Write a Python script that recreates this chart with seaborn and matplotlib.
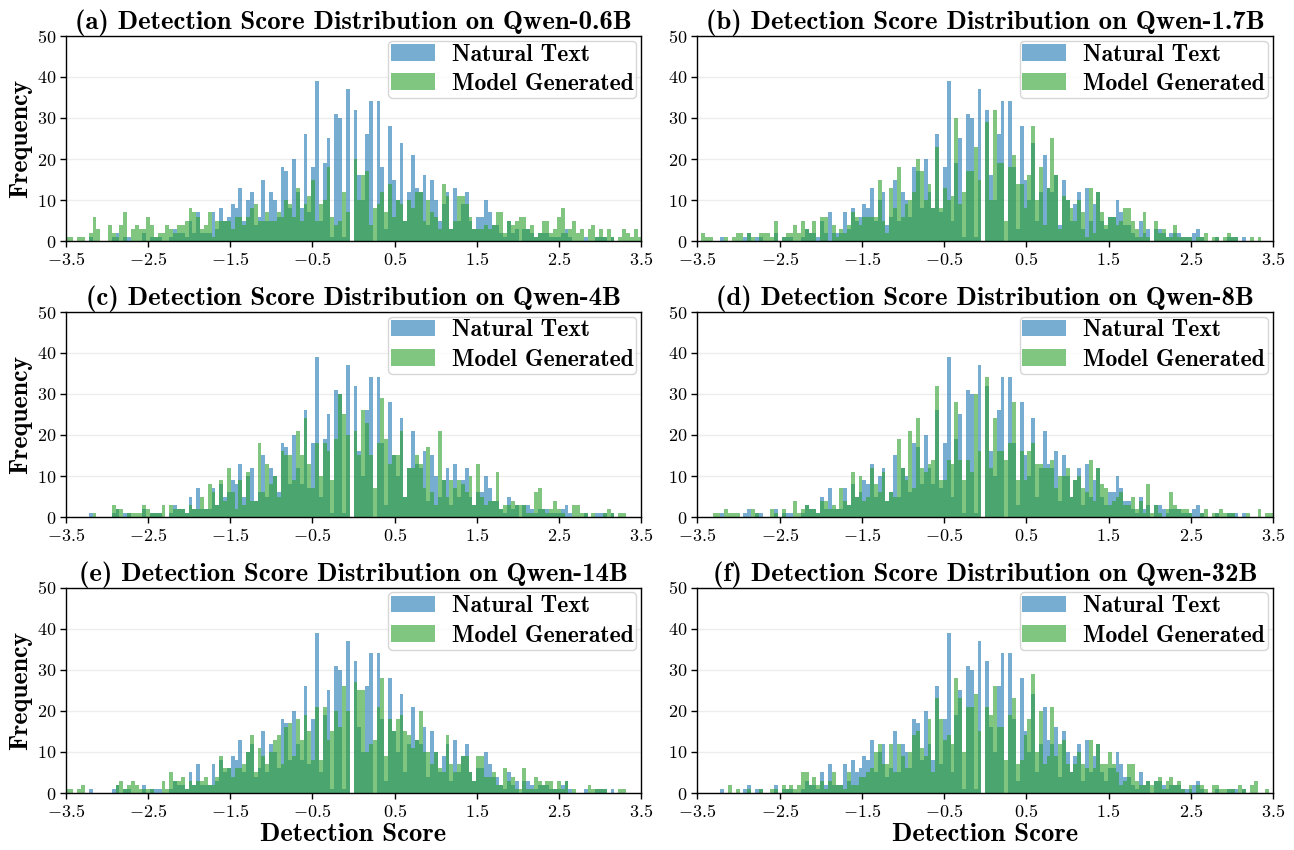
import numpy as np
import matplotlib
matplotlib.use("Agg")
import matplotlib.pyplot as plt
import seaborn as sns

models = ["(a) Detection Score Distribution on Qwen-0.6B",
          "(b) Detection Score Distribution on Qwen-1.7B",
          "(c) Detection Score Distribution on Qwen-4B",
          "(d) Detection Score Distribution on Qwen-8B",
          "(e) Detection Score Distribution on Qwen-14B",
          "(f) Detection Score Distribution on Qwen-32B"]

# counts per bin, 150 bins between -3.5 and 3.5
natural = [0,0,0,0,0,0,1,0,0,0, 0,0,1,2,0,1,1,0,0,0, 2,0,1,1,1,0,0,1,3,2,
           2,1,5,2,7,2,2,2,7,3, 8,5,6,9,8,13,5,10,12,4, 6,15,5,12,10,6,18,17,8,20,
           12,8,26,7,18,39,5,19,25,1, 31,30,1,37,0,32,16,10,26,34, 0,34,18,3,28,15,10,24,5,12,
           21,13,12,16,4,15,10,5,9,12, 3,13,5,9,12,5,3,6,6,10, 7,4,4,2,1,5,2,3,0,3,
           3,2,1,2,2,2,1,1,1,2, 3,1,0,0,0,1,0,0,1,1, 1,0,1,0,0,0,0,0,0,0]

gen_a = [1,1,0,1,1,0,2,6,3,0, 0,4,2,1,4,7,0,3,4,3, 3,6,4,1,2,2,4,3,2,4,
         4,5,8,7,6,3,4,7,1,5, 5,5,5,3,6,6,4,6,8,9, 5,5,7,5,5,7,6,10,9,6,
         13,5,9,11,15,5,9,10,18,6, 4,5,12,7,0,20,10,16,17,4, 8,9,12,7,14,6,10,9,5,10,
         8,12,12,5,10,7,6,3,14,11, 3,5,11,11,9,6,3,3,3,4, 3,4,7,7,2,5,4,5,6,6,
         3,4,1,2,5,5,2,3,6,8, 2,3,5,2,3,0,3,4,1,3, 1,3,1,0,1,3,2,1,3,1]

gen_b = [0,2,1,1,0,0,0,1,0,1, 2,2,0,2,1,0,2,2,2,1, 5,0,1,2,2,4,2,5,3,2,
         5,0,6,6,0,4,1,3,2,4, 7,6,4,6,6,6,6,15,5,2, 13,8,18,6,9,10,12,20,17,10,
         14,8,23,8,13,10,11,30,9,12, 17,17,23,15,0,29,10,32,19,19, 5,18,21,14,14,8,16,28,10,18,
         4,13,25,16,3,11,10,8,5,10, 7,1,13,2,12,7,4,6,6,4, 5,8,8,5,3,1,7,1,0,5,
         2,3,1,1,4,1,1,1,1,0, 1,1,2,0,1,1,0,1,2,1, 1,0,0,0,1,0,1,0,0,0]

gen_c = [0,0,0,0,0,0,0,1,0,0, 0,0,3,2,2,0,1,1,1,1, 3,2,1,1,1,3,0,3,2,2,
         2,1,3,2,2,5,2,8,6,3, 9,4,12,6,2,9,3,11,4,4, 18,6,13,8,10,5,16,15,15,9,
         21,15,24,13,7,18,10,18,16,9, 19,30,25,20,0,21,15,26,23,15, 7,18,29,19,13,15,15,21,5,12,
         12,15,13,7,17,6,3,21,9,5, 9,7,9,8,6,10,3,13,5,3, 4,4,11,2,3,3,4,3,3,3,
         1,1,6,7,2,1,2,4,2,1, 0,0,3,3,1,1,0,1,0,0, 1,2,1,0,1,1,0,0,0,0]

gen_d = [0,0,0,0,1,1,0,2,1,1, 1,0,0,0,2,1,0,0,0,2, 1,0,2,0,0,4,1,2,3,2,
         2,1,4,4,2,3,2,7,4,3, 11,5,10,4,5,12,8,6,11,4, 6,5,19,12,9,21,7,24,12,11,
         13,14,32,9,9,14,13,28,14,9, 14,11,30,16,0,34,12,24,16,16, 14,18,28,9,16,9,16,18,13,13,
         12,12,14,7,10,10,12,5,9,10, 7,6,14,4,12,8,7,3,4,5, 6,3,3,5,2,4,1,8,1,3,
         1,0,2,6,3,2,2,2,1,0, 0,1,2,0,1,1,2,1,1,1, 0,0,0,1,0,0,2,0,1,1]

gen_e = [1,1,0,1,2,0,0,0,0,0, 0,0,0,2,3,1,2,3,2,1, 1,1,1,0,0,3,1,5,3,3,
         4,1,3,2,3,3,4,2,2,4, 9,6,6,4,6,6,7,10,14,5, 11,9,7,10,13,14,7,16,17,9,
         18,13,19,15,8,21,8,21,13,15, 20,16,26,20,0,27,25,25,10,12, 13,21,28,9,18,15,18,19,15,14,
         11,13,20,10,10,7,10,6,5,14, 7,5,7,9,9,5,3,9,9,4, 4,5,2,2,6,3,4,1,1,6,
         1,1,4,3,2,3,3,1,3,1, 3,0,1,0,0,0,2,1,1,1, 1,0,0,0,1,1,0,0,0,0]

gen_f = [0,0,0,0,0,0,0,0,2,0, 1,0,0,1,0,0,1,0,0,1, 1,0,2,1,2,1,2,5,5,2,
         4,2,3,1,3,5,2,2,1,5, 2,2,4,4,5,6,10,12,7,7, 12,5,12,9,6,10,14,15,11,9,
         18,5,23,18,13,14,12,28,23,10, 21,21,24,15,0,21,19,26,16,16, 8,19,23,7,8,14,18,29,10,20,
         7,9,21,9,12,13,7,5,7,10, 7,6,13,6,12,7,7,10,7,5, 2,3,7,7,3,2,2,3,2,3,
         4,1,3,4,2,3,1,0,2,0, 2,2,1,0,2,2,1,1,1,1, 0,2,1,0,2,3,0,0,1,0]

generated = [gen_a, gen_b, gen_c, gen_d, gen_e, gen_f]
xticks = [-3.5, -2.5, -1.5, -0.5, 0.5, 1.5, 2.5, 3.5]
yticks = [0, 10, 20, 30, 40, 50]

sns.set_style("ticks")
plt.rcParams["font.family"] = "cmr10"
plt.rcParams["mathtext.fontset"] = "cm"
plt.rcParams["axes.formatter.use_mathtext"] = True
plt.rcParams["axes.unicode_minus"] = True
for key in ["text.color", "axes.labelcolor", "axes.edgecolor", "xtick.color", "ytick.color"]:
    plt.rcParams[key] = "black"

nbins = 150
edges = np.linspace(-3.5, 3.5, nbins + 1)
centers = (edges[:-1] + edges[1:]) / 2

fig, axes = plt.subplots(3, 2, figsize=(12.94, 8.5), dpi=100)
fig.subplots_adjust(left=65.7/1294, right=1273/1294, top=1-35.7/850, bottom=1-793/850,
                    wspace=56/575.5, hspace=70.4/205.5)

for i, ax in enumerate(axes.flat):
    sns.histplot(x=centers, weights=natural, bins=nbins, binrange=(-3.5, 3.5), color="#1f77b4",
                 alpha=0.6, edgecolor="none", linewidth=0, label="Natural Text", ax=ax)
    sns.histplot(x=centers, weights=generated[i], bins=nbins, binrange=(-3.5, 3.5), color="#2ca02c",
                 alpha=0.6, edgecolor="none", linewidth=0, label="Model Generated", ax=ax)
    ax.set_xlim(-3.5, 3.5)
    ax.set_ylim(0, 50)
    ax.set_xticks(xticks)
    ax.set_yticks(yticks)
    ax.tick_params(labelsize=13, length=4, width=1, pad=3)
    ax.grid(axis="y", color="#b0b0b0", alpha=0.22, linewidth=1)
    ax.set_axisbelow(True)
    for s in ax.spines.values():
        s.set_visible(True)
        s.set_linewidth(1)
    ax.set_title(models[i], family="cmb10", fontsize=19.3, pad=4)
    ax.set_ylabel("Frequency" if i % 2 == 0 else "", family="cmb10", fontsize=18.6, labelpad=3)
    ax.set_xlabel("Detection Score" if i >= 4 else "", family="cmb10", fontsize=19.2, labelpad=2)
    ax.legend(loc="upper right", prop={"family": "cmb10", "size": 17.1}, borderaxespad=0.21,
              borderpad=0.12, handlelength=1.85, handletextpad=0.72, labelspacing=0.31,
              edgecolor="#cccccc", framealpha=0.8)

fig.savefig("out.png", dpi=100)
